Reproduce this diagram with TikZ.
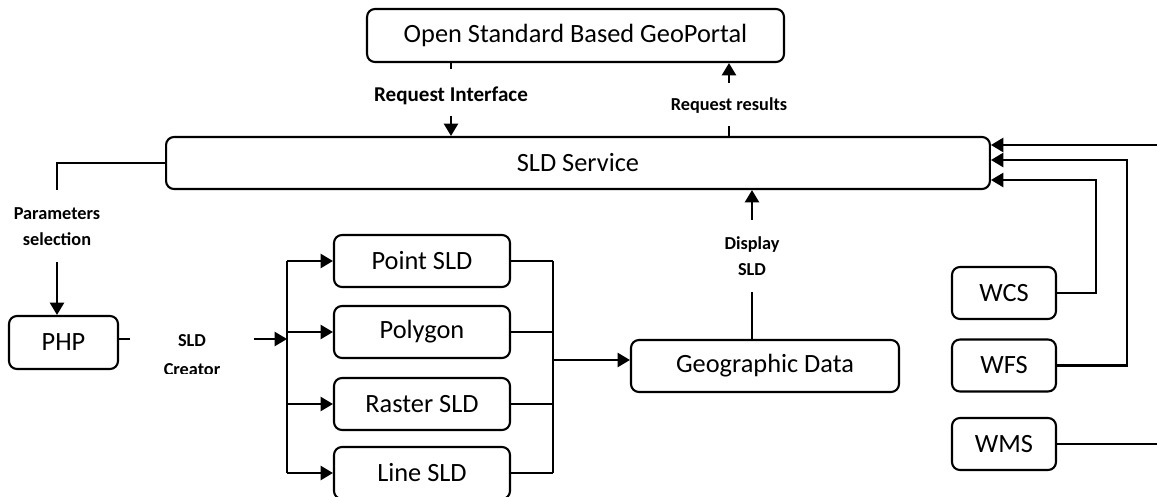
\documentclass[tikz,border=0pt]{standalone}
\usepackage{fontspec}
\setmainfont{Carlito}
\usetikzlibrary{arrows.meta}
\tikzset{
  box/.style={draw, rounded corners=4.5pt, inner sep=0pt, minimum height=1.04cm,
    font=\fontsize{15}{18}\selectfont},
  lbl/.style={inner sep=0pt, align=center, font=\bfseries\fontsize{10.4}{14.7}\selectfont},
  arr/.style={-{Triangle[length=7pt,width=8pt]}},
}
\begin{document}
\begin{tikzpicture}[x=0.02cm, y=-0.02cm, line width=1.2pt]
  \useasboundingbox (0,0) rectangle (1157,497);
  \node[box, minimum width=8.34cm, minimum height=1.06cm] (portal) at (575.5,35.5) {Open Standard Based GeoPortal};
  \node[box, minimum width=16.48cm] (sld) at (578,163) {SLD Service};
  \node[box, minimum width=2.18cm, minimum height=1.06cm] (php) at (63.5,342.5) {PHP};
  \node[box, minimum width=3.52cm] (point) at (422,261) {Point SLD};
  \node[box, minimum width=3.52cm] (polygon) at (422,332) {Polygon};
  \node[box, minimum width=3.52cm] (raster) at (422,404) {Raster SLD};
  \node[box, minimum width=3.52cm] (line) at (422,473) {Line SLD};
  \node[box, minimum width=5.36cm] (geodata) at (765,366) {Geographic Data};
  \node[box, minimum width=2.08cm] (wcs) at (1004,293) {WCS};
  \node[box, minimum width=2.08cm] (wfs) at (1004,365.5) {WFS};
  \node[box, minimum width=2.08cm] (wms) at (1004,444) {WMS};

  \node[lbl, font=\bfseries\fontsize{12}{14}\selectfont] (reqin) at (451,96) {Request Interface};
  \node[lbl] (reqres) at (729,106) {Request results};
  \node[lbl] (display) at (752,256) {Display\\SLD};
  \node[lbl] (param) at (57,227) {Parameters\\selection};
  \begin{scope}
    \clip (140,300) rectangle (250,373);
    \node[lbl, font=\bfseries\fontsize{10.4}{16.5}\selectfont] (creator) at (192,355) {SLD\\Creator};
  \end{scope}

  \coordinate (split) at (287,339);
  \coordinate (join) at (553,360);
  \coordinate (wcsup) at (1096,180);
  \coordinate (wfsup) at (1127,160);
  \coordinate (wmsout) at (1157,444);
  \coordinate (wmsin) at (1157,145);

  \draw[shorten >=9.4pt] (portal.south -| reqin) -- (reqin.north);
  \draw[arr, shorten <=5.4pt] (reqin.south) -- (sld.north -| reqin);
  \draw[shorten >=6.6pt] (sld.north -| reqres) -- (reqres.south);
  \draw[arr, shorten <=8.3pt] (reqres.north) -- (portal.south -| reqres);
  \draw[arr, shorten <=9pt] (display.north) -- (sld.south -| display);
  \draw[shorten <=8.8pt] (display.south) -- (geodata.north -| display);
  \draw[shorten >=9.6pt] (sld.west) -| (param.north);
  \draw[arr, shorten <=8.5pt] (param.south) -- (php.north -| param);
  \draw[shorten >=18.4pt] (php.east |- split) -- (split -| creator.west);
  \draw[arr, shorten <=18.4pt] (split -| creator.east) -- (split);
  \draw (split |- point) -- (split |- line);
  \foreach \n in {point, polygon, raster, line}
    \draw[arr] (split |- \n) -- (\n.west);
  \foreach \n in {point, polygon, raster, line}
    \draw (\n.east) -- (join |- \n);
  \draw (join |- point) -- (join |- line);
  \draw[arr] (join) -- (join -| geodata.west);
  \draw[arr] (wcs.east) -| (wcsup) -- (wcsup -| sld.east);
  \draw[arr] (wfs.east) -| (wfsup) -- (wfsup -| sld.east);
  \draw (wms.east) -- (wmsout);
  \draw[arr] (wmsin) -- (wmsin -| sld.east);
\end{tikzpicture}
\end{document}
